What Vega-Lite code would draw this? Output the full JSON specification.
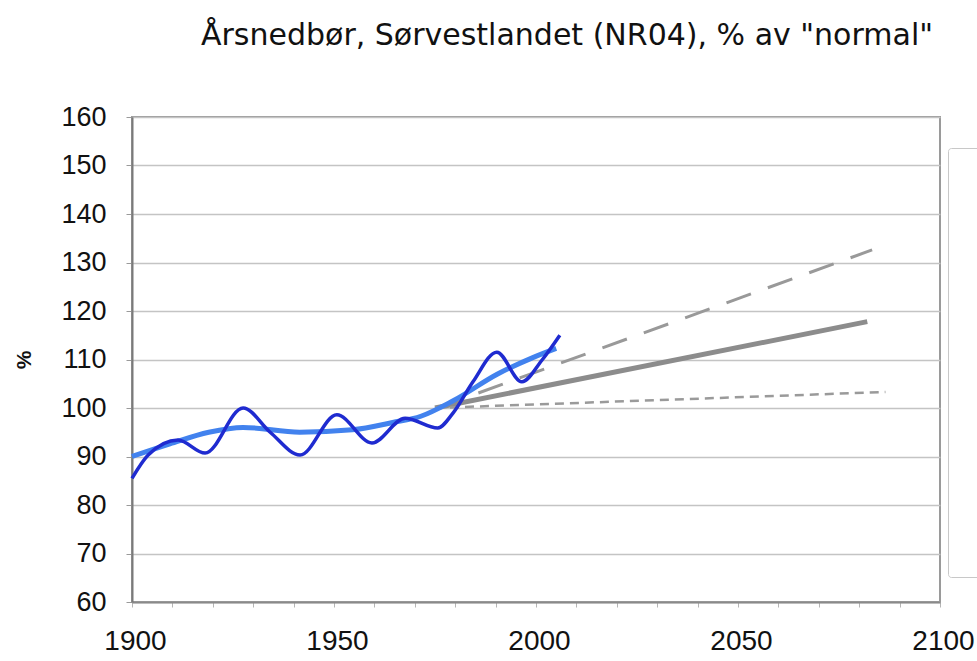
{
  "$schema": "https://vega.github.io/schema/vega-lite/v6.json",
  "width": 808,
  "height": 485,
  "autosize": {"type": "none"},
  "padding": {"left": 132, "top": 117, "right": 37, "bottom": 59},
  "background": "white",
  "title": {
    "text": "Årsnedbør, Sørvestlandet (NR04), % av \"normal\"",
    "font": "DejaVu Sans",
    "fontSize": 30,
    "fontWeight": "normal",
    "color": "#111111",
    "anchor": "middle",
    "dx": 31,
    "offset": 52
  },
  "config": {
    "view": {"stroke": "#9a9a9a", "strokeWidth": 2},
    "axis": {"labelFont": "Liberation Sans", "titleFont": "Liberation Sans", "labelColor": "#111111", "titleColor": "#111111"}
  },
  "data": {
    "values": [
      {"s": "Observert", "year": 1900, "v": 85.5},
      {"s": "Observert", "year": 1904, "v": 90.3},
      {"s": "Observert", "year": 1911.4, "v": 93.4},
      {"s": "Observert", "year": 1918.1, "v": 90.7},
      {"s": "Observert", "year": 1927.5, "v": 100},
      {"s": "Observert", "year": 1934.2, "v": 95},
      {"s": "Observert", "year": 1941.6, "v": 90.3},
      {"s": "Observert", "year": 1950.7, "v": 98.6},
      {"s": "Observert", "year": 1959.4, "v": 92.8},
      {"s": "Observert", "year": 1967.6, "v": 97.9},
      {"s": "Observert", "year": 1975.7, "v": 95.9},
      {"s": "Observert", "year": 1979.5, "v": 99},
      {"s": "Observert", "year": 1984.4, "v": 105.4},
      {"s": "Observert", "year": 1990.3, "v": 111.5},
      {"s": "Observert", "year": 1996.5, "v": 105.4},
      {"s": "Observert", "year": 2001.5, "v": 109.9},
      {"s": "Observert", "year": 2005.9, "v": 115},
      {"s": "Trend", "year": 1900, "v": 90},
      {"s": "Trend", "year": 1909.4, "v": 92.6},
      {"s": "Trend", "year": 1919, "v": 95},
      {"s": "Trend", "year": 1927.5, "v": 96},
      {"s": "Trend", "year": 1941.5, "v": 95},
      {"s": "Trend", "year": 1954.5, "v": 95.5},
      {"s": "Trend", "year": 1964.5, "v": 97},
      {"s": "Trend", "year": 1971.5, "v": 98.3},
      {"s": "Trend", "year": 1979.5, "v": 101.5},
      {"s": "Trend", "year": 1990.5, "v": 107},
      {"s": "Trend", "year": 1999.5, "v": 110.5},
      {"s": "Trend", "year": 2005, "v": 112.3},
      {"s": "Høy", "year": 1975.5, "v": 100},
      {"s": "Høy", "year": 2083.2, "v": 132.6},
      {"s": "Middels", "year": 1975, "v": 100},
      {"s": "Middels", "year": 2082, "v": 117.8},
      {"s": "Lav", "year": 1975, "v": 100},
      {"s": "Lav", "year": 2086.5, "v": 103.3}
    ]
  },
  "encoding": {
    "x": {
      "field": "year", "type": "quantitative",
      "scale": {"domain": [1900, 2100], "nice": false, "zero": false},
      "axis": {
        "title": null, "grid": false,
        "values": [1900,1910,1920,1930,1940,1950,1960,1970,1980,1990,2000,2010,2020,2030,2040,2050,2060,2070,2080,2090,2100],
        "labelExpr": "datum.value % 50 === 0 ? datum.label : ''",
        "format": "d",
        "labelFlush": false,
        "labelOverlap": false,
        "labelFontSize": 28, "labelPadding": 20, "labelOffset": 3,
        "domainColor": "#8a8a8a", "domainWidth": 2,
        "tickColor": "#b5b5b5", "tickSize": 5
      }
    },
    "y": {
      "field": "v", "type": "quantitative",
      "scale": {"domain": [60, 160], "nice": false, "zero": false},
      "axis": {
        "title": "%", "titleFontSize": 21, "titleFontWeight": "bold", "titlePadding": 26,
        "values": [60,70,80,90,100,110,120,130,140,150,160],
        "labelFontSize": 27, "labelPadding": 20,
        "labelFlush": false,
        "grid": true, "gridColor": "#c4c4c4", "gridWidth": 1.5,
        "domainColor": "#7a7a7a", "domainWidth": 2,
        "tickColor": "#9a9a9a", "tickSize": 6
      }
    },
    "color": {
      "field": "s", "type": "nominal",
      "scale": {
        "domain": ["Observert", "Trend", "Høy", "Middels", "Lav"],
        "range": ["#1f2bd0", "#4282ee", "#999999", "#8c8c8c", "#9a9a9a"]
      },
      "legend": {
        "title": null,
        "orient": "none",
        "legendX": 816,
        "legendY": 31,
        "padding": 40,
        "rowPadding": 76,
        "symbolType": "stroke",
        "labelExpr": "''",
        "labelFontSize": 1,
        "strokeColor": "#c8c8c8",
        "fillColor": "white",
        "cornerRadius": 3
      }
    }
  },
  "layer": [
    {
      "transform": [{"filter": "datum.s === 'Høy'"}],
      "mark": {"type": "line", "strokeWidth": 3, "strokeDash": [26, 18]}
    },
    {
      "transform": [{"filter": "datum.s === 'Middels'"}],
      "mark": {"type": "line", "strokeWidth": 5}
    },
    {
      "transform": [{"filter": "datum.s === 'Lav'"}],
      "mark": {"type": "line", "strokeWidth": 2.5, "strokeDash": [9, 6]}
    },
    {
      "transform": [{"filter": "datum.s === 'Trend'"}],
      "mark": {"type": "line", "strokeWidth": 5, "interpolate": "monotone"}
    },
    {
      "transform": [{"filter": "datum.s === 'Observert'"}],
      "mark": {"type": "line", "strokeWidth": 3.5, "interpolate": "monotone"}
    }
  ]
}
